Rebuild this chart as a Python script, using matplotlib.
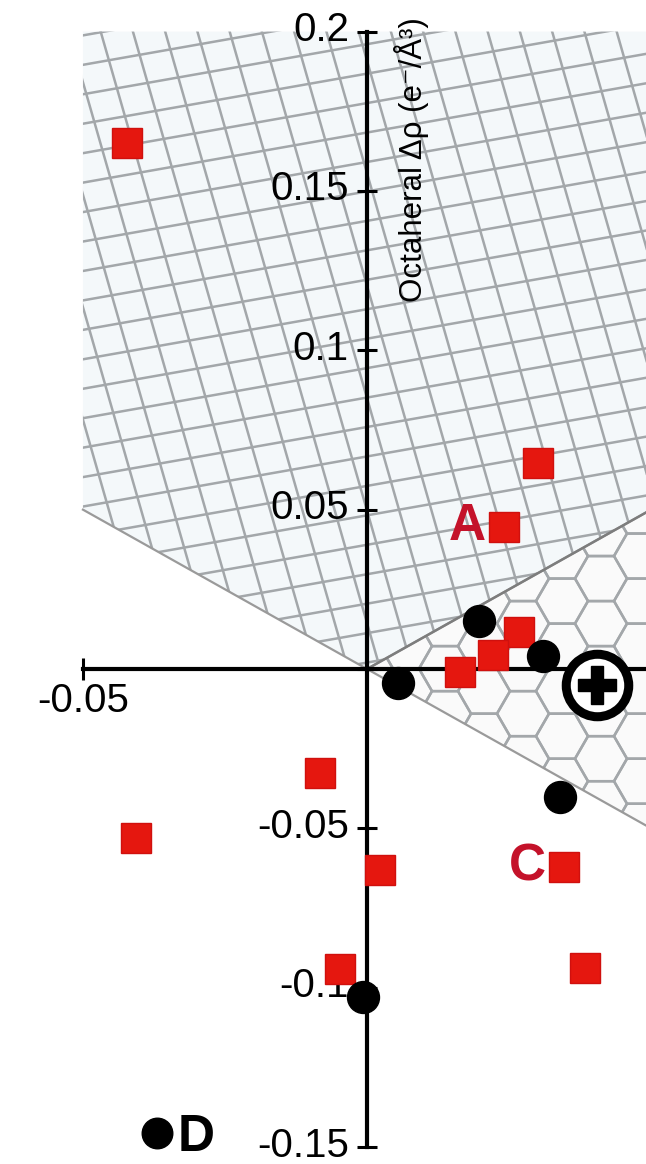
import numpy as np
import matplotlib
matplotlib.use("Agg")
import matplotlib.pyplot as plt
import matplotlib.transforms as mtransforms
from matplotlib.patches import Polygon
from matplotlib.collections import LineCollection, PolyCollection
from matplotlib.lines import Line2D

plt.rcParams['font.family'] = ['Liberation Sans', 'DejaVu Sans']

# ---------------- data ----------------
red_x = [-0.0423, 0.0301, 0.0241, 0.0268, 0.0222, 0.0164, -0.0083, -0.0407, 0.0023, 0.0347, -0.0048, 0.0384]
red_y = [0.1650, 0.0646, 0.0446, 0.0116, 0.0044, -0.0009, -0.0326, -0.0530, -0.0630, -0.0621, -0.0941, -0.0938]
black_x = [0.0055, 0.0197, 0.0310, 0.0340, -0.0007]
black_y = [-0.0044, 0.0151, 0.0041, -0.0402, -0.1029]
ref_x = [0.0405]
ref_y = [-0.0050]
point_labels = ['A', 'C']
point_label_idx = [2, 9]
yticks = [0.2, 0.15, 0.1, 0.05, 0.0, -0.05, -0.1, -0.15]
ytick_labels = ['0.2', '0.15', '0.1', '0.05', '', '-0.05', '-0.1', '-0.15']
xticks = [-0.05]
xtick_labels = ['-0.05']
oct_region_x = [-0.05, -0.05, 0.0, 0.06, 0.06]
oct_region_y = [0.2, 0.05, 0.0, 0.06, 0.2]
tet_region_x = [0.0, 0.06, 0.06]
tet_region_y = [0.0, 0.06, -0.06]
ylabel = "Octaheral \u0394\u03c1 (e\u207b/\u00c5\u00b3)"
legend_label = 'D'

XLIM = (-0.0646, 0.0491)
YLIM = (-0.1553, 0.2099)

W, H = 646, 1164
fig = plt.figure(figsize=(W / 100, H / 100), dpi=100)
ax = fig.add_axes([0, 0, 1, 1])
ax.set_xlim(*XLIM)
ax.set_ylim(*YLIM)

sx = W / (XLIM[1] - XLIM[0])
sy = H / (YLIM[1] - YLIM[0])

def px2data(px, py):
    return XLIM[0] + np.asarray(px) / sx, YLIM[0] + np.asarray(py) / sy

# ---------------- regions ----------------
oct_patch = Polygon(np.column_stack([oct_region_x, oct_region_y]), closed=True,
                    facecolor='#f4f8fa', edgecolor='none', zorder=0.5)
tet_patch = Polygon(np.column_stack([tet_region_x, tet_region_y]), closed=True,
                    facecolor='#fafafa', edgecolor='none', zorder=0.5)
ax.add_patch(oct_patch)
ax.add_patch(tet_patch)

# square (sheared) grid pattern inside octahedral region
segs = []
cx, cy = W / 2, H / 2
L = 1600
for ang, sp in [(10.0, 29.0), (-74.0, 31.0)]:
    a = np.deg2rad(ang)
    d = np.array([np.cos(a), np.sin(a)])
    n = np.array([-np.sin(a), np.cos(a)])
    for k in range(-60, 61):
        p0 = np.array([cx, cy]) + n * sp * k - d * L
        p1 = np.array([cx, cy]) + n * sp * k + d * L
        x0, y0 = px2data(p0[0], p0[1])
        x1, y1 = px2data(p1[0], p1[1])
        segs.append([(x0, y0), (x1, y1)])
lc = LineCollection(segs, colors='#a3a7aa', linewidths=1.8, zorder=0.8)
ax.add_collection(lc)
lc.set_clip_path(oct_patch)

# hexagon pattern inside the other region
R = 26.0
hexes = []
angs = np.deg2rad(np.arange(0, 360, 60))
for i in range(-2, int(W / (1.5 * R)) + 3):
    for j in range(-2, int(H / (np.sqrt(3) * R)) + 3):
        hx = 367 + 1.5 * R * i - 1.5 * R * 6
        hy = np.sqrt(3) * R * (j + 0.5 * (i % 2))
        vx = hx + R * np.cos(angs)
        vy = hy + R * np.sin(angs)
        dx, dy = px2data(vx, vy)
        hexes.append(np.column_stack([dx, dy]))
pc = PolyCollection(hexes, facecolors='none', edgecolors='#a3a7aa', linewidths=1.8, zorder=0.8)
ax.add_collection(pc)
pc.set_clip_path(tet_patch)

# region boundary lines
ax.plot(oct_region_x[1:4], oct_region_y[1:4], color='#9a9a9a', lw=1.6, zorder=0.9)
ax.plot([tet_region_x[0], tet_region_x[2]], [tet_region_y[0], tet_region_y[2]],
        color='#9a9a9a', lw=1.6, zorder=0.9)
ax.plot(tet_region_x[:2], tet_region_y[:2], color='#7d7d7d', lw=1.8, zorder=0.9)

# ---------------- axes ----------------
for s in ['top', 'right']:
    ax.spines[s].set_visible(False)
ax.spines['left'].set_position(('data', 0))
ax.spines['bottom'].set_position(('data', 0))
ax.spines['left'].set_bounds(-0.15, 0.2)
ax.spines['bottom'].set_bounds(-0.05, XLIM[1])
ax.spines['left'].set_linewidth(3)
ax.spines['bottom'].set_linewidth(3)
ax.spines['left'].set_zorder(3)
ax.spines['bottom'].set_zorder(3)
ax.set_yticks(yticks, ytick_labels)
ax.set_xticks(xticks, xtick_labels)
ax.tick_params(axis='y', direction='inout', length=14, width=2.2, labelsize=29, pad=6)
ax.tick_params(axis='x', direction='inout', length=16, width=2.2, labelsize=29, pad=1)
shift = mtransforms.ScaledTranslation(0, 4 / 72, fig.dpi_scale_trans)
for lbl in ax.get_yticklabels():
    lbl.set_transform(lbl.get_transform() + shift)

ax.text(0.0078, 0.1597, ylabel, rotation=90, ha='center', va='center', fontsize=22.5, zorder=4)

# ---------------- markers ----------------
ax.plot(red_x, red_y, ls='', marker='s', ms=21, mfc='#e5170f', mec='#d0100e', mew=1, zorder=5)
ax.plot(black_x, black_y, ls='', marker='o', ms=23, mfc='black', mec='black', zorder=6)
ax.plot(ref_x, ref_y, ls='', marker='o', ms=45, mfc='white', mec='black', mew=6.5, zorder=6)
ax.plot(ref_x, ref_y, ls='', marker='P', ms=28, mfc='black', mec='black', zorder=7)

for lab, idx in zip(point_labels, point_label_idx):
    ax.annotate(lab, xy=(red_x[idx], red_y[idx]), xytext=(-13, 0), textcoords='offset points',
                ha='right', va='center', fontsize=37, fontweight='bold', color='#c4122a', zorder=5)

handle = Line2D([], [], ls='', marker='o', color='black', ms=22)
ax.legend(handles=[handle], labels=[legend_label], loc='center', bbox_to_anchor=(0.2755, 0.0226),
          frameon=False, handlelength=0.6, handletextpad=0.1, borderpad=0, borderaxespad=0,
          prop={'size': 37, 'weight': 'bold'})

fig.savefig('out.png', dpi=100, facecolor='white')
